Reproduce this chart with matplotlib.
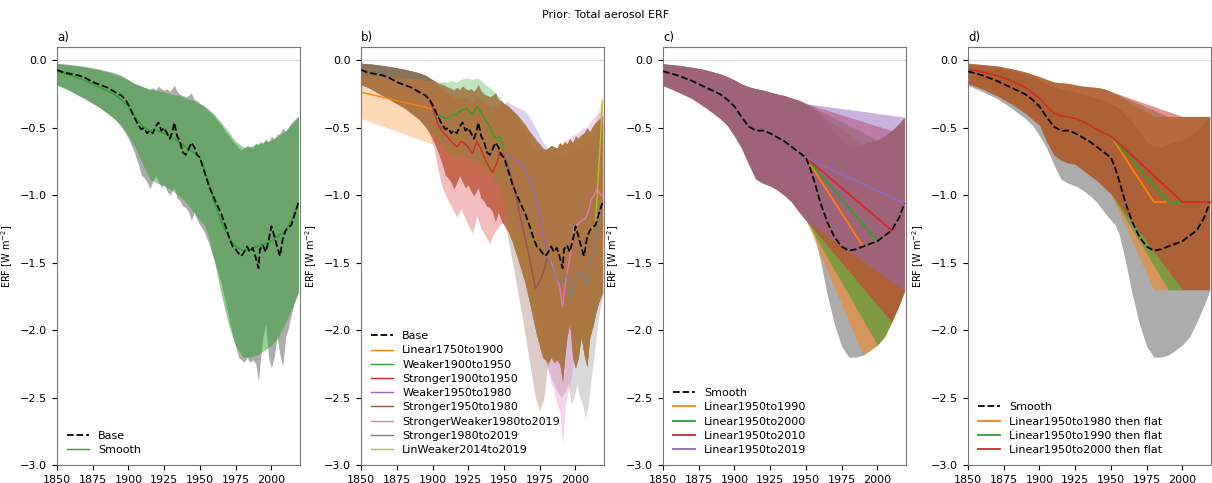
import numpy as np
import matplotlib
matplotlib.use("Agg")
import matplotlib.pyplot as plt

# ---- Base (annual-ish, noisy) ----
base_years = [1850, 1855, 1860, 1865, 1870, 1875, 1880, 1885, 1890, 1895,
              1898, 1901, 1904, 1907, 1909, 1911, 1913, 1915, 1917, 1919,
              1921, 1923, 1925, 1927, 1929, 1931, 1932, 1934, 1936, 1938,
              1940, 1942, 1944, 1946, 1948, 1950, 1953, 1956, 1959, 1962,
              1965, 1968, 1971, 1973, 1975, 1977, 1979, 1981, 1983, 1985,
              1987, 1989, 1991, 1992, 1994, 1996, 1998, 2000, 2002, 2004,
              2006, 2008, 2010, 2012, 2014, 2016, 2019]
base_mid = [-0.07, -0.09, -0.10, -0.11, -0.13, -0.16, -0.18, -0.20, -0.23, -0.26,
            -0.29, -0.35, -0.42, -0.48, -0.51, -0.50, -0.54, -0.52, -0.54, -0.49,
            -0.46, -0.52, -0.50, -0.54, -0.58, -0.52, -0.46, -0.56, -0.60, -0.68,
            -0.70, -0.66, -0.61, -0.64, -0.70, -0.72, -0.82, -0.92, -1.00, -1.07,
            -1.14, -1.23, -1.33, -1.38, -1.40, -1.43, -1.45, -1.42, -1.38, -1.42,
            -1.39, -1.46, -1.54, -1.40, -1.37, -1.42, -1.34, -1.23, -1.30, -1.38,
            -1.45, -1.32, -1.26, -1.24, -1.22, -1.15, -1.05]
base_hi = [-0.02, -0.025, -0.03, -0.037, -0.045, -0.055, -0.065, -0.077, -0.09, -0.11,
           -0.13, -0.15, -0.17, -0.18, -0.19, -0.20, -0.21, -0.22, -0.20, -0.22,
           -0.19, -0.21, -0.22, -0.21, -0.23, -0.20, -0.18, -0.23, -0.25, -0.26,
           -0.27, -0.26, -0.24, -0.29, -0.30, -0.32, -0.34, -0.37, -0.40, -0.44,
           -0.48, -0.53, -0.57, -0.60, -0.62, -0.65, -0.66, -0.65, -0.63, -0.64,
           -0.65, -0.61, -0.63, -0.60, -0.62, -0.58, -0.61, -0.56, -0.58, -0.55,
           -0.54, -0.50, -0.53, -0.49, -0.46, -0.44, -0.41]
base_lo = [-0.18, -0.20, -0.23, -0.26, -0.29, -0.32, -0.35, -0.39, -0.43, -0.49,
           -0.54, -0.60, -0.68, -0.77, -0.85, -0.87, -0.90, -0.95, -0.90, -0.85,
           -0.90, -0.94, -0.92, -0.97, -1.00, -0.96, -0.94, -1.02, -1.04, -1.08,
           -1.09, -1.12, -1.19, -1.12, -1.18, -1.22, -1.27, -1.35, -1.45, -1.55,
           -1.66, -1.80, -1.95, -2.04, -2.12, -2.20, -2.22, -2.24, -2.20, -2.24,
           -2.22, -2.25, -2.38, -2.25, -2.05, -1.95, -2.20, -2.28, -2.20, -2.05,
           -2.18, -2.27, -2.05, -1.98, -1.88, -1.80, -1.72]

# ---- Smooth ----
sm_years = [1850, 1860, 1870, 1880, 1890, 1895, 1900, 1905, 1910, 1915, 1920,
            1925, 1930, 1935, 1940, 1945, 1950, 1953, 1956, 1960, 1965, 1970,
            1975, 1980, 1985, 1990, 1995, 2000, 2005, 2010, 2015, 2019]
sm_mid = [-0.08, -0.11, -0.15, -0.20, -0.25, -0.29, -0.34, -0.42, -0.49, -0.52, -0.52,
          -0.54, -0.57, -0.60, -0.64, -0.68, -0.72, -0.80, -0.90, -1.05, -1.20, -1.31,
          -1.38, -1.41, -1.40, -1.38, -1.36, -1.34, -1.30, -1.26, -1.17, -1.06]
sm_hi = [-0.025, -0.035, -0.05, -0.07, -0.10, -0.12, -0.145, -0.175, -0.195, -0.21, -0.22,
         -0.235, -0.25, -0.26, -0.28, -0.295, -0.32, -0.335, -0.36, -0.40, -0.46, -0.53,
         -0.60, -0.64, -0.64, -0.62, -0.60, -0.59, -0.56, -0.52, -0.47, -0.42]
sm_lo = [-0.185, -0.23, -0.28, -0.35, -0.43, -0.48, -0.56, -0.65, -0.77, -0.88, -0.91,
         -0.93, -0.96, -1.00, -1.05, -1.12, -1.185, -1.22, -1.30, -1.48, -1.74, -1.96,
         -2.12, -2.20, -2.20, -2.185, -2.15, -2.11, -2.05, -1.94, -1.82, -1.71]

# ---- panel b variants (values over the altered period) ----
lin1750_years = [1850, 1900]
lin1750_mid = [-0.235, -0.36]
lin1750_lo = [-0.43, -0.62]
lin1750_hi = [-0.10, -0.15]

p1900_years = [1901, 1904, 1907, 1910, 1913, 1917, 1920, 1924, 1928, 1931, 1934,
               1937, 1940, 1942, 1945, 1947, 1950]
weak1900_mid = [-0.37, -0.41, -0.42, -0.43, -0.41, -0.40, -0.37, -0.36, -0.40, -0.34, -0.38,
                -0.44, -0.49, -0.55, -0.58, -0.56, -0.66]
weak1900_hi = [-0.15, -0.16, -0.16, -0.16, -0.15, -0.16, -0.14, -0.13, -0.14, -0.13, -0.15,
               -0.18, -0.20, -0.22, -0.26, -0.27, -0.32]
weak1900_lo = [-0.55, -0.60, -0.65, -0.68, -0.70, -0.72, -0.70, -0.72, -0.75, -0.74, -0.78,
               -0.82, -0.85, -0.90, -0.92, -0.95, -1.05]
strong1900_mid = [-0.38, -0.48, -0.53, -0.56, -0.60, -0.64, -0.60, -0.63, -0.69, -0.60, -0.66,
                  -0.74, -0.80, -0.83, -0.76, -0.68, -0.70]
strong1900_lo = [-0.65, -0.82, -0.95, -1.02, -1.08, -1.16, -1.10, -1.20, -1.28, -1.15, -1.25,
                 -1.30, -1.36, -1.30, -1.25, -1.22, -1.20]
strong1900_hi = [-0.15, -0.19, -0.22, -0.24, -0.26, -0.28, -0.27, -0.28, -0.30, -0.27, -0.30,
                 -0.32, -0.34, -0.35, -0.33, -0.32, -0.32]

weak1950_years = [1952, 1956, 1960, 1964, 1968, 1971, 1974, 1977, 1980]
weak1950_mid = [-0.70, -0.72, -0.75, -0.79, -0.88, -0.98, -1.12, -1.28, -1.43]
weak1950_hi = [-0.30, -0.33, -0.35, -0.37, -0.42, -0.48, -0.54, -0.60, -0.64]
weak1950_lo = [-1.20, -1.22, -1.28, -1.35, -1.45, -1.60, -1.80, -2.00, -2.20]

strong1950_years = [1952, 1955, 1958, 1961, 1964, 1967, 1970, 1972, 1975, 1978, 1980]
strong1950_mid = [-0.74, -0.86, -0.98, -1.14, -1.28, -1.42, -1.58, -1.69, -1.64, -1.56, -1.47]
strong1950_lo = [-1.28, -1.45, -1.62, -1.80, -1.98, -2.18, -2.38, -2.50, -2.60, -2.50, -2.30]
strong1950_hi = [-0.33, -0.36, -0.40, -0.46, -0.52, -0.58, -0.64, -0.67, -0.68, -0.68, -0.66]

sw1980_years = [1981, 1983, 1985, 1987, 1989, 1991, 1993, 1995, 1997, 1999, 2001,
                2003, 2005, 2007, 2009, 2011, 2013, 2015, 2017, 2019]
sw1980_mid = [-1.46, -1.50, -1.57, -1.62, -1.68, -1.83, -1.65, -1.52, -1.40, -1.24, -1.22,
              -1.20, -1.18, -1.17, -1.12, -1.03, -1.00, -0.95, -0.99, -1.00]
sw1980_lo = [-2.30, -2.40, -2.45, -2.55, -2.60, -2.85, -2.55, -2.45, -2.35, -2.20, -2.10,
             -2.00, -1.95, -1.90, -1.75, -1.60, -1.55, -1.45, -1.45, -1.45]
sw1980_hi = [-0.66, -0.66, -0.66, -0.65, -0.64, -0.62, -0.60, -0.58, -0.56, -0.55, -0.54,
             -0.52, -0.50, -0.50, -0.48, -0.44, -0.42, -0.40, -0.38, -0.37]

strong1980_years = [1981, 1984, 1987, 1990, 1993, 1995, 1997, 1999, 2001, 2003, 2005,
                    2007, 2009, 2011, 2013, 2015, 2017, 2019]
strong1980_mid = [-1.46, -1.55, -1.62, -1.66, -1.58, -1.62, -1.75, -1.68, -1.58, -1.60, -1.56,
                  -1.66, -1.63, -1.45, -1.38, -1.25, -1.15, -1.05]
strong1980_lo = [-2.30, -2.38, -2.45, -2.50, -2.45, -2.40, -2.55, -2.50, -2.40, -2.50, -2.55,
                 -2.65, -2.55, -2.35, -2.20, -2.00, -1.85, -1.75]
strong1980_hi = [-0.66, -0.68, -0.70, -0.70, -0.70, -0.68, -0.70, -0.68, -0.66, -0.66, -0.64,
                 -0.64, -0.62, -0.58, -0.55, -0.50, -0.47, -0.45]

linweak2014_years = [2014, 2019]
linweak2014_mid = [-1.22, -0.30]
linweak2014_lo = [-1.88, -1.20]
linweak2014_hi = [-0.46, -0.25]

# ---- panel c: end years of linear trends from 1950 ----
lin_start = 1950
lin_end_years = [1990, 2000, 2010, 2019]

# ---- panel d: alternative pre-1950 history, then linear, then flat ----
d_years = [1850, 1860, 1870, 1880, 1890, 1900, 1905, 1910, 1915, 1920, 1925,
           1930, 1935, 1940, 1945, 1950]
d_mid = [-0.065, -0.085, -0.11, -0.15, -0.20, -0.28, -0.34, -0.39, -0.41, -0.42, -0.43,
         -0.45, -0.48, -0.51, -0.54, -0.56]
d_hi = [-0.02, -0.03, -0.04, -0.06, -0.085, -0.12, -0.14, -0.16, -0.165, -0.17, -0.18,
        -0.19, -0.195, -0.20, -0.21, -0.23]
d_lo = [-0.17, -0.21, -0.26, -0.32, -0.39, -0.48, -0.60, -0.70, -0.74, -0.76, -0.77,
        -0.81, -0.85, -0.89, -0.94, -0.99]
d_flat_mid, d_flat_hi, d_flat_lo = -1.05, -0.415, -1.70
d_end_years = [1980, 1990, 2000]
d_last_year = 2019


def splice(x0, ys0, px, pys):
    x0 = np.asarray(x0)
    px = np.asarray(px)
    before = x0 < px[0]
    after = x0 > px[-1]
    x = np.concatenate([x0[before], px, x0[after]])
    ys = [np.concatenate([np.asarray(a)[before], np.asarray(b), np.asarray(a)[after]])
          for a, b in zip(ys0, pys)]
    start = x0[before][-1] if before.any() else px[0]
    line = (x >= start) & (x <= px[-1])
    return x, ys, line


BAND_ALPHA = 0.5
GREY = "grey"
GREY_ALPHA = 0.65

fig = plt.figure(figsize=(12.12, 4.83), dpi=100)
lefts = [0.047, 0.2979, 0.547, 0.7987]
axs = [fig.add_axes([l, 0.0373, 0.2005, 0.8654]) for l in lefts]
fig.suptitle("Prior: Total aerosol ERF", fontsize=8, y=0.98)

# a) Base vs Smooth
ax = axs[0]
ax.fill_between(base_years, base_lo, base_hi, color=GREY, alpha=GREY_ALPHA, lw=0)
ax.fill_between(sm_years, sm_lo, sm_hi, color="C2", alpha=BAND_ALPHA, lw=0)
ax.plot(base_years, base_mid, "k--", lw=1.3, label="Base", zorder=4)
ax.plot(sm_years, sm_mid, color="C2", lw=1, label="Smooth")

# b) Base variants
ax = axs[1]
ax.fill_between(base_years, base_lo, base_hi, color=GREY, alpha=GREY_ALPHA, lw=0)
ax.plot(base_years, base_mid, "k--", lw=1.3, label="Base", zorder=4)
variants_b = [
    ("Linear1750to1900", lin1750_years, lin1750_mid, lin1750_lo, lin1750_hi),
    ("Weaker1900to1950", p1900_years, weak1900_mid, weak1900_lo, weak1900_hi),
    ("Stronger1900to1950", p1900_years, strong1900_mid, strong1900_lo, strong1900_hi),
    ("Weaker1950to1980", weak1950_years, weak1950_mid, weak1950_lo, weak1950_hi),
    ("Stronger1950to1980", strong1950_years, strong1950_mid, strong1950_lo, strong1950_hi),
    ("StrongerWeaker1980to2019", sw1980_years, sw1980_mid, sw1980_lo, sw1980_hi),
    ("Stronger1980to2019", strong1980_years, strong1980_mid, strong1980_lo, strong1980_hi),
    ("LinWeaker2014to2019", linweak2014_years, linweak2014_mid, linweak2014_lo, linweak2014_hi),
]
spliced = []
for i, (name, py, pm, pl, ph) in enumerate(variants_b):
    x, (m, lo, hi), line = splice(base_years, [base_mid, base_lo, base_hi], py, [pm, pl, ph])
    spliced.append((i, name, x, m, lo, hi, line))
# bands stacked last-to-first, lines in legend order
for i, name, x, m, lo, hi, line in spliced[::-1]:
    ax.fill_between(x, lo, hi, color="C%d" % (i + 1), alpha=0.3, lw=0)
for i, name, x, m, lo, hi, line in spliced:
    ax.plot(x[line], m[line], color="C%d" % (i + 1), lw=1, label=name)

# c) Smooth with linear trends from 1950
ax = axs[2]
smm, sml, smh = np.asarray(sm_mid), np.asarray(sm_lo), np.asarray(sm_hi)
ax.fill_between(sm_years, sm_lo, sm_hi, color=GREY, alpha=GREY_ALPHA, lw=0)
ax.plot(sm_years, sm_mid, "k--", lw=1.3, label="Smooth", zorder=4)
i0 = sm_years.index(lin_start)
for i, end in enumerate(lin_end_years):
    c = "C%d" % (i + 1)
    i1 = sm_years.index(end)
    x, (m, lo, hi), line = splice(sm_years, [sm_mid, sm_lo, sm_hi], [lin_start, end],
                                  [[smm[i0], smm[i1]], [sml[i0], sml[i1]], [smh[i0], smh[i1]]])
    ax.fill_between(x, lo, hi, color=c, alpha=BAND_ALPHA, lw=0)
    ax.plot([lin_start, end], [smm[i0], smm[i1]], color=c, lw=1.3,
            label="Linear%dto%d" % (lin_start, end))

# d) Linear then flat
ax = axs[3]
ax.fill_between(sm_years, sm_lo, sm_hi, color=GREY, alpha=GREY_ALPHA, lw=0)
ax.plot(sm_years, sm_mid, "k--", lw=1.3, label="Smooth", zorder=4)
for i, end in enumerate(d_end_years):
    c = "C%d" % (i + 1)
    x = d_years + [end, d_last_year]
    ax.fill_between(x, d_lo + [d_flat_lo] * 2, d_hi + [d_flat_hi] * 2,
                    color=c, alpha=BAND_ALPHA, lw=0)
    ax.plot(x, d_mid + [d_flat_mid] * 2, color=c, lw=1.3,
            label="Linear1950to%d then flat" % end)

for ax, tag in zip(axs, ["a)", "b)", "c)", "d)"]):
    ax.axhline(0, color="#dddddd", lw=1, zorder=0)
    ax.set_xlim(1850, 2020)
    ax.set_ylim(-3.0, 0.1)
    ax.set_xticks(np.arange(1850, 2001, 25))
    ax.set_yticks(np.arange(-3.0, 0.01, 0.5))
    ax.tick_params(labelsize=8)
    ax.set_ylabel("ERF [W m$^{-2}$]", fontsize=7)
    ax.set_title(tag, loc="left", fontsize=8.5, pad=4)
    ax.legend(loc="lower left", frameon=False, fontsize=8, labelspacing=0.38)
    for s in ax.spines.values():
        s.set_color("#777777")

fig.savefig("out.png", dpi=100)
